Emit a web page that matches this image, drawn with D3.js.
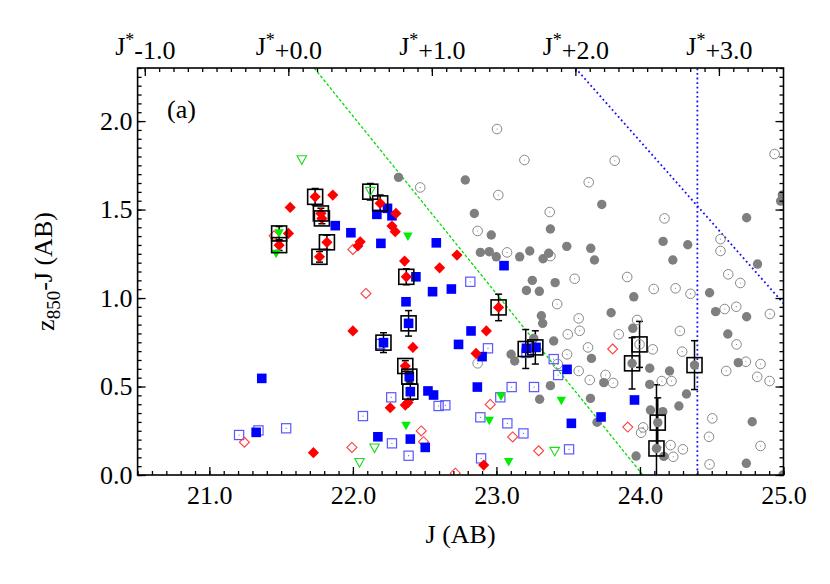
<!DOCTYPE html>
<html>
<head>
<meta charset="utf-8">
<script src="https://cdn.jsdelivr.net/npm/d3@7"></script>
<style>
  body { margin: 0; background: #fff; }
  svg text { font-family: "Liberation Serif", "Times New Roman", serif; fill: #000; }
</style>
</head>
<body>
<div id="chart"></div>
<script>
// [J, z850-J]
var grayFilled = [[22.318,1.682],[22.783,1.667],[23.734,1.529],[24.992,1.582],[24.980,1.548],[22.846,1.478],[24.743,1.454],
  [22.964,1.356],[23.376,1.390],[22.888,1.258],[22.950,1.262],[22.999,1.233],[23.162,1.233],[23.232,1.266],[23.325,1.222],
  [23.364,1.253],[23.490,1.292],[23.657,1.281],[23.683,1.215],[24.161,1.320],[24.333,1.301],[24.229,1.215],[24.819,1.192],
  [23.250,1.100],[23.209,1.043],[23.299,1.038],[23.409,1.087],[24.485,1.030],[23.957,1.007],[23.799,0.917],[24.527,0.923],
  [24.743,0.894],[23.313,0.900],[23.322,0.857],[23.950,0.829],[24.612,0.797],[23.102,0.682],[23.127,0.644],[23.260,0.772],
  [23.399,0.757],[23.662,0.659],[24.685,0.635],[23.748,0.522],[24.068,0.603],[24.206,0.588],[24.068,0.512],[24.324,0.458],
  [24.271,0.390],[23.376,0.505],[23.301,0.428],[23.655,0.433],[24.073,0.367],[24.159,0.358],[23.701,0.298],[23.973,0.107],
  [24.782,0.301],[24.741,0.066],[24.996,0.000],[23.945,0.631],[24.380,0.621],[24.124,0.296],[24.115,0.150],[24.166,0.105]];

var grayOpen = [[22.469,1.625],[23.004,1.955],[23.195,1.780],[23.824,1.776],[24.938,1.814],[23.013,1.582],[23.643,1.654],
  [23.371,1.486],[24.171,1.450],[22.869,1.379],[24.561,1.333],[24.561,1.266],[23.074,1.258],[23.376,1.237],[24.615,1.134],
  [24.699,1.085],[23.545,1.109],[23.911,1.119],[24.096,1.051],[24.248,1.055],[24.352,1.024],[23.423,0.966],[24.671,0.951],
  [24.590,0.938],[24.905,0.910],[23.573,0.885],[23.580,0.815],[23.497,0.795],[23.852,0.795],[23.980,0.876],[24.278,0.814],
  [24.673,0.738],[22.869,0.631],[23.492,0.682],[23.638,0.721],[23.997,0.738],[24.089,0.710],[24.294,0.697],[24.601,0.588],
  [24.738,0.640],[24.840,0.627],[24.817,0.555],[24.903,0.531],[23.427,0.627],[23.573,0.588],[23.650,0.537],[23.813,0.520],
  [24.152,0.531],[24.220,0.531],[24.022,0.269],[24.008,0.239],[24.213,0.169],[24.299,0.145],[24.232,0.103],[24.504,0.320],
  [24.481,0.216],[24.485,0.060],[24.840,0.164],[23.760,0.565]];

var blueFilled = [[22.241,1.507],[22.167,1.473],[22.272,1.465],[21.877,1.409],[21.986,1.369],[22.195,1.309],[22.581,1.312],
  [22.439,1.120],[22.555,1.036],[22.686,1.051],[22.370,0.979],[22.388,0.857],[22.213,0.748],[22.736,0.738],[21.365,0.546],
  [22.393,0.556],[22.400,0.471],[22.523,0.475],[22.562,0.452],[21.326,0.241],[22.174,0.216],[22.400,0.203],[22.504,0.156],
  [23.053,1.183],[22.823,0.814],[22.900,0.669],[23.209,0.716],[23.276,0.721],[23.492,0.597],[22.867,0.497],[23.962,0.424],
  [23.522,0.292],[23.729,0.328]];

var blueOpen = [[22.267,0.439],[22.597,0.390],[22.644,0.394],[22.070,0.333],[21.207,0.226],[21.342,0.252],[21.535,0.264],
  [22.272,0.179],[22.388,0.109],[22.818,1.092],[22.941,0.716],[23.399,0.655],[23.430,0.565],[23.106,0.497],[23.262,0.497],
  [23.027,0.439],[22.888,0.326],[23.076,0.292],[23.188,0.235],[23.506,0.145],[22.893,0.094],[22.190,0.740],[23.209,0.690]];

var redFilled = [[21.737,1.572],[21.860,1.582],[22.190,1.535],[22.300,1.478],[21.563,1.512],[21.777,1.478],[21.784,1.450],
  [22.051,1.318],[22.035,1.294],[22.272,1.407],[22.295,1.375],[22.725,1.243],[21.551,1.365],[21.486,1.299],[21.767,1.233],
  [21.819,1.315],[22.360,1.209],[22.604,1.171],[22.372,1.120],[22.000,0.814],[22.418,0.721],[22.365,0.616],[22.365,0.395],
  [22.384,0.409],[22.260,0.380],[21.725,0.126],[23.015,0.947],[22.930,0.814],[22.858,0.687],[22.911,0.056]];

var redOpen = [[21.451,1.352],[22.000,1.275],[22.091,1.026],[22.476,0.249],[21.244,0.185],[22.492,0.188],[21.993,0.156],
  [22.713,0.010],[23.810,0.712],[22.957,0.399],[23.915,0.271],[23.113,0.215],[23.294,0.137]];

var greenFilled = [[22.383,1.346],[21.486,1.365],[21.465,1.249],[22.370,0.277],[23.032,0.442],[23.452,0.418],[22.950,0.305],[23.085,0.072]];

var greenOpen = [[21.644,1.780],[22.121,1.601],[22.151,0.151],[22.046,0.069],[23.406,0.132]];

// [J, z850-J, error]
var stacked = [[21.486,1.365,0.040],[21.486,1.299,0.030],[21.737,1.572,0.047],[21.777,1.478,0.030],[21.784,1.450,0.030],
  [21.819,1.315,0.040],[21.767,1.233,0.030],[22.121,1.601,0.047],[22.190,1.535,0.047],[22.372,1.120,0.045],
  [22.388,0.857,0.072],[22.213,0.748,0.056],[22.365,0.616,0.030],[22.393,0.556,0.030],[22.400,0.471,0.047],
  [23.015,0.947,0.075],[23.204,0.712,0.110],[23.271,0.721,0.094],[23.997,0.738,0.130],[23.945,0.631,0.145],
  [24.380,0.621,0.138],[24.124,0.296,0.140],[24.115,0.150,0.360]];

var jStar = 21.55;
var topLabels = [-1, 0, 1, 2, 3];
var yTicks = [0, 0.5, 1.0, 1.5, 2.0];
var xTicks = [21, 22, 23, 24, 25];
var greenLimit = [[21.73, 2.3], [24.02, 0]];
var blueLimit = [[23.55, 2.3], [25.0, 0.97]];
var blueCut = 24.4;

var W = 830, H = 584;
var x = d3.scaleLinear().domain([20.5, 25.0]).range([137.6, 783.5]);
var y = d3.scaleLinear().domain([0, 2.3]).range([475, 68]);

var svg = d3.select("#chart").append("svg").attr("width", W).attr("height", H);

svg.append("clipPath").attr("id", "clip").append("rect")
  .attr("x", x(20.5)).attr("y", y(2.3)).attr("width", x(25) - x(20.5)).attr("height", y(0) - y(2.3));

var plot = svg.append("g").attr("clip-path", "url(#clip)");

// limit lines
var line = d3.line().x(d => x(d[0])).y(d => y(d[1]));
plot.append("path").datum(greenLimit).attr("d", line)
  .style("stroke", "#00dd00").style("stroke-width", 1.3).style("stroke-dasharray", "3,2").style("fill", "none");
plot.append("path").datum(blueLimit).attr("d", line)
  .style("stroke", "#1010ff").style("stroke-width", 1.8).style("stroke-dasharray", "1.8,2.8").style("fill", "none");
plot.append("line").attr("x1", x(blueCut)).attr("x2", x(blueCut)).attr("y1", y(0)).attr("y2", y(2.3))
  .style("stroke", "#1010ff").style("stroke-width", 1.8).style("stroke-dasharray", "1.8,2.8");

// error bars of stacked points
var eb = plot.append("g").style("stroke", "#000").style("stroke-width", 1.5);
stacked.forEach(function(d) {
  var cx = x(d[0]);
  eb.append("line").attr("x1", cx).attr("x2", cx).attr("y1", y(d[1] - d[2])).attr("y2", y(d[1] + d[2]));
  [d[1] - d[2], d[1] + d[2]].forEach(function(v) {
    eb.append("line").attr("x1", cx - 3.5).attr("x2", cx + 3.5).attr("y1", y(v)).attr("y2", y(v));
  });
});

function diamond(r) { return "M0," + (-r) + "L" + r + ",0L0," + r + "L" + (-r) + ",0Z"; }
function triDown(w) { var h = w * 0.9; return "M" + (-w / 2) + "," + (-h / 2) + "L" + (w / 2) + "," + (-h / 2) + "L0," + (h / 2) + "Z"; }

function pts(data) {
  return plot.append("g").selectAll("g").data(data).enter().append("g")
    .attr("transform", d => "translate(" + x(d[0]) + "," + y(d[1]) + ")");
}

var go = pts(grayOpen);
go.append("circle").attr("r", 4.8).style("fill", "none").style("stroke", "#888").style("stroke-width", 1);
go.append("circle").attr("r", 0.6).style("fill", "#888");

pts(grayFilled).append("circle").attr("r", 4.7).style("fill", "#7f7f7f");

var bo = pts(blueOpen);
bo.append("rect").attr("x", -4.6).attr("y", -4.6).attr("width", 9.2).attr("height", 9.2)
  .style("fill", "none").style("stroke", "#5858ff").style("stroke-width", 1.2);
bo.append("circle").attr("r", 0.6).style("fill", "#5858ff");

pts(redOpen).append("path").attr("d", diamond(5))
  .style("fill", "none").style("stroke", "#ff4040").style("stroke-width", 1.1);

pts(greenOpen).append("path").attr("d", triDown(9.5))
  .style("fill", "none").style("stroke", "#20d820").style("stroke-width", 1.1);

pts(blueFilled).append("rect").attr("x", -4.8).attr("y", -4.8).attr("width", 9.6).attr("height", 9.6)
  .style("fill", "#0000ff");

pts(redFilled).append("path").attr("d", diamond(5.6)).style("fill", "#ff0000");

pts(greenFilled).append("path").attr("d", triDown(9.5)).style("fill", "#00ee00");

// boxes round the stacked points
pts(stacked).append("rect").attr("x", -7.5).attr("y", -7.5).attr("width", 15).attr("height", 15)
  .style("fill", "none").style("stroke", "#000").style("stroke-width", 1.6);

// axes
var fs = "26px";
function minorTicks(a, b, step) { return d3.range(Math.round((b - a) / step) + 1).map(i => a + i * step); }

var xMinor = minorTicks(20.5, 25.0, 0.1);
var yMinor = minorTicks(0, 2.3, 0.05);
var topMinor = minorTicks(jStar - 1.0, 24.95, 0.1);

function styleAxis(g) {
  g.select(".domain").remove();
  g.selectAll("line").style("stroke", "#000").style("stroke-width", 1.3);
  g.selectAll("text").style("font-size", fs).style("font-family", "Liberation Serif");
}

svg.append("g").attr("transform", "translate(0," + y(0) + ")")
  .call(d3.axisBottom(x).tickValues(xMinor).tickSize(-4).tickFormat("")).call(styleAxis);
svg.append("g").attr("transform", "translate(0," + y(0) + ")")
  .call(d3.axisBottom(x).tickValues(xTicks).tickSize(-8).tickPadding(11).tickFormat(d3.format(".1f"))).call(styleAxis);

svg.append("g").attr("transform", "translate(" + x(20.5) + ",0)")
  .call(d3.axisLeft(y).tickValues(yMinor).tickSize(-4).tickFormat("")).call(styleAxis);
svg.append("g").attr("transform", "translate(" + x(20.5) + ",0)")
  .call(d3.axisLeft(y).tickValues(yTicks).tickSize(-8).tickPadding(5).tickFormat(d3.format(".1f"))).call(styleAxis);

svg.append("g").attr("transform", "translate(" + x(25) + ",0)")
  .call(d3.axisRight(y).tickValues(yMinor).tickSize(-4).tickFormat("")).call(styleAxis);
svg.append("g").attr("transform", "translate(" + x(25) + ",0)")
  .call(d3.axisRight(y).tickValues(yTicks).tickSize(-8).tickFormat("")).call(styleAxis);

svg.append("g").attr("transform", "translate(0," + y(2.3) + ")")
  .call(d3.axisTop(x).tickValues(topMinor).tickSize(-4).tickFormat("")).call(styleAxis);
var topAxis = svg.append("g").attr("transform", "translate(0," + y(2.3) + ")")
  .call(d3.axisTop(x).tickValues(topLabels.map(k => jStar + k)).tickSize(-8).tickPadding(13).tickFormat(""))
  .call(styleAxis);
topAxis.selectAll(".tick text").each(function(d) {
  var k = Math.round(d - jStar);
  var t = d3.select(this);
  t.append("tspan").text("J");
  t.append("tspan").attr("dy", "-0.5em").style("font-size", "18px").text("*");
  t.append("tspan").attr("dy", "0.5em").text((k < 0 ? "-" : "+") + Math.abs(k).toFixed(1));
});

// frame
svg.append("rect").attr("x", x(20.5)).attr("y", y(2.3))
  .attr("width", x(25) - x(20.5)).attr("height", y(0) - y(2.3))
  .style("fill", "none").style("stroke", "#000").style("stroke-width", 1.6);

// titles
svg.append("text").attr("x", (x(20.5) + x(25)) / 2).attr("y", 543)
  .attr("text-anchor", "middle").style("font-size", fs).text("J (AB)");

var yt = svg.append("text").attr("transform", "translate(54," + ((y(0) + y(2.3)) / 2) + ") rotate(-90)")
  .attr("text-anchor", "middle").style("font-size", fs);
yt.append("tspan").text("z");
yt.append("tspan").attr("dy", "0.3em").style("font-size", "19px").text("850");
yt.append("tspan").attr("dy", "-0.3em").text("-J (AB)");

svg.append("text").attr("x", 167).attr("y", 118).style("font-size", fs).text("(a)");
</script>
</body>
</html>
